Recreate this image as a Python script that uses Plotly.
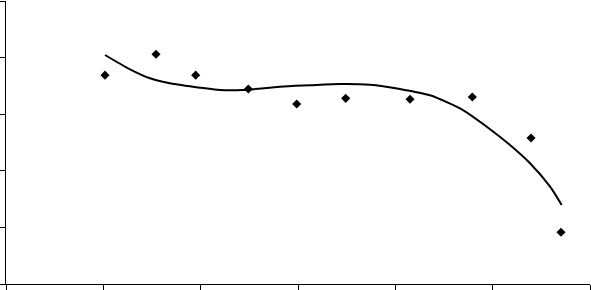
import plotly.graph_objects as go

# Observed data points
pt_x = [1.017, 1.541, 1.949, 2.490, 2.987, 3.490, 4.151, 4.791, 5.394, 5.702]
pt_y = [3.69, 4.06, 3.69, 3.445, 3.18, 3.28, 3.263, 3.304, 2.58, 0.913]

# Trendline
tr_x = [1.017, 1.274, 1.480, 1.685, 1.993, 2.199, 2.435, 2.815, 3.123, 3.432,
        3.740, 4.048, 4.356, 4.695, 4.939, 5.178, 5.384, 5.590, 5.709]
tr_y = [4.046, 3.793, 3.634, 3.546, 3.468, 3.428, 3.428, 3.486, 3.511, 3.534,
        3.521, 3.445, 3.334, 3.074, 2.779, 2.456, 2.133, 1.719, 1.396]

x_ticks = [0, 1, 2, 3, 4, 5, 6]
y_ticks = [0, 1, 2, 3, 4, 5]

fig = go.Figure()
fig.add_trace(go.Scatter(x=tr_x, y=tr_y, mode="lines",
                         line=dict(color="black", width=2, shape="spline", smoothing=0.7),
                         showlegend=False, hoverinfo="skip"))
fig.add_trace(go.Scatter(x=pt_x, y=pt_y, mode="markers",
                         marker=dict(symbol="diamond", size=7, color="black"),
                         showlegend=False))

axis_common = dict(showgrid=False, zeroline=False, showline=True, linecolor="black",
                   linewidth=1, ticks="outside", ticklen=5, tickcolor="black",
                   tickwidth=1, showticklabels=False, fixedrange=True)
fig.update_xaxes(range=[0, 6], tickvals=x_ticks, **axis_common)
fig.update_yaxes(range=[0, 5], tickvals=y_ticks, **axis_common)
fig.update_layout(width=591, height=290, margin=dict(l=6, r=1, t=1, b=6),
                  plot_bgcolor="white", paper_bgcolor="white")
fig.write_html("out.html")
